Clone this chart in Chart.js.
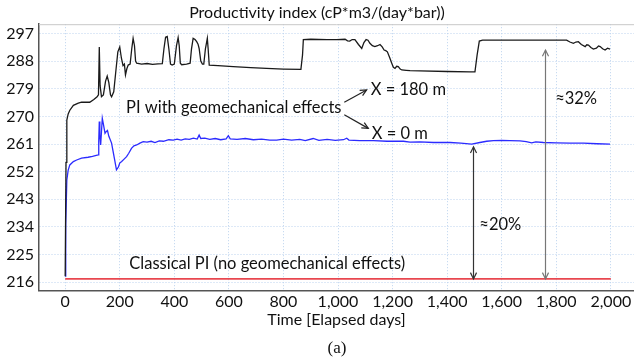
<!DOCTYPE html>
<html>
<head>
<meta charset="utf-8">
<script src="https://cdn.jsdelivr.net/npm/chart.js@4.4.0/dist/chart.umd.min.js"></script>
<style>
  html, body { margin: 0; padding: 0; background: #fff; }
</style>
</head>
<body>
<canvas id="myChart" width="634" height="363"></canvas>
<script>
// PI at X = 180 m (black)
const days180 = [0, 3, 6, 11, 17, 30, 48, 60, 90, 105, 117, 122, 125, 128, 133, 140, 148, 154, 160, 166, 170, 178, 186, 193, 200, 206, 212, 217, 221, 226, 231, 238, 244, 249, 254, 258, 262, 280, 300, 320, 340, 356, 362, 368, 374, 380, 386, 392, 400, 408, 414, 418, 422, 427, 445, 458, 463, 469, 476, 482, 487, 491, 497, 503, 508, 514, 521, 524, 528, 560, 616, 680, 738, 800, 864, 870, 873, 900, 960, 995, 1026, 1035, 1043, 1052, 1062, 1075, 1087, 1095, 1103, 1110, 1117, 1126, 1135, 1145, 1154, 1162, 1169, 1175, 1181, 1190, 1197, 1203, 1209, 1215, 1221, 1228, 1234, 1250, 1264, 1300, 1400, 1484, 1502, 1510, 1518, 1530, 1600, 1700, 1800, 1838, 1850, 1863, 1872, 1881, 1892, 1906, 1912, 1918, 1927, 1936, 1947, 1955, 1961, 1970, 1979, 1988, 1997]
const pi180 = [218, 255, 268.8, 270.8, 272, 273.6, 274.3, 274.6, 274.6, 275.5, 276.4, 277, 292.6, 280, 276.4, 277, 281.5, 283.1, 281, 277, 276.4, 278, 285, 291, 292.6, 289, 286.5, 287, 283.5, 285.5, 286.7, 287, 292, 295.4, 293, 288, 287.3, 287, 287.2, 286.9, 287.1, 287.2, 292, 295.8, 296, 292, 287, 286.7, 287, 293, 295.6, 293, 287.3, 286.8, 287, 287.3, 292, 295.4, 295, 294.3, 293.5, 292.1, 288, 287, 287, 292, 295.4, 292, 286.7, 286.5, 286.2, 285.9, 285.6, 285.4, 285.3, 290, 295, 295.1, 295, 295, 295.1, 294.6, 294.5, 295, 295, 293.4, 292.1, 294, 295, 294.8, 293.8, 293, 292.7, 293, 293.4, 292.6, 291.6, 291.4, 291, 289, 287.3, 286, 285.6, 286.3, 286.2, 285.4, 285.1, 285, 284.9, 284.8, 284.6, 284.5, 284.5, 290, 294.5, 294.8, 294.8, 294.8, 294.8, 294.8, 294.2, 293.8, 294.2, 294.3, 293.4, 292.7, 293.3, 293.2, 292.4, 291.9, 292.2, 292.9, 292.7, 292, 291.6, 292.2, 291.9]

// PI at X = 0 m (blue)
const days0 = [0, 2, 6, 11, 17, 30, 42, 60, 84, 100, 121, 123, 125, 127, 130, 133, 136, 140, 146, 150, 155, 160, 170, 180, 188, 195, 200, 207, 215, 225, 233, 243, 252, 262, 274, 286, 300, 315, 329, 345, 360, 380, 396, 410, 425, 440, 455, 470, 484, 491, 497, 512, 530, 550, 570, 590, 598, 605, 630, 660, 690, 720, 750, 775, 800, 830, 860, 880, 909, 930, 960, 990, 1020, 1032, 1040, 1080, 1130, 1180, 1240, 1264, 1300, 1350, 1411, 1450, 1490, 1520, 1545, 1570, 1600, 1630, 1667, 1690, 1710, 1725, 1753, 1800, 1850, 1900, 1950, 1997]
const pi0 = [218, 235, 249.3, 252.5, 254.2, 255.3, 255.8, 256.4, 256.7, 257, 257.5, 262, 268.3, 264, 260.7, 265, 269.4, 267.5, 264.5, 265, 265.4, 263.5, 261.3, 256.5, 252.6, 253.5, 254.8, 255.3, 256, 256.9, 258, 259.6, 260.4, 260.7, 261.3, 261.8, 261.6, 261.9, 261.5, 262, 261.9, 262.4, 262.3, 262.6, 262.3, 262.7, 262.5, 262.9, 262.6, 263.9, 262.8, 262.9, 262.5, 262.8, 262.4, 262.7, 263.7, 262.7, 262.5, 262.8, 262.4, 262.6, 262.3, 262.3, 262.6, 262.3, 262.5, 262.1, 262.8, 262.2, 262.5, 262.2, 262.4, 262.9, 262.3, 262.1, 262.1, 261.9, 261.9, 261.6, 261.7, 261.5, 261.5, 261.3, 261.0, 261.5, 261.9, 262.1, 262.2, 262.1, 262.0, 261.8, 261.4, 261.7, 261.5, 261.4, 261.3, 261.3, 261.1, 261.0]

// classical PI (red)
const daysClassical = [0, 2000]
const piClassical = [217.1, 217.1]

const xTicks = [0, 200, 400, 600, 800, 1000, 1200, 1400, 1600, 1800, 2000]
const yTicks = [216, 225, 234, 243, 252, 261, 270, 279, 288, 297]

const toPoints = (xs, ys) => xs.map((d, i) => ({ x: d, y: ys[i] }))

Chart.defaults.font.family = 'Lato'
Chart.defaults.font.size = 16
Chart.defaults.color = '#111'

// arrows + labels on the plot
const notes = {
  id: 'notes',
  afterDraw(chart) {
    const ctx = chart.ctx
    const sx = chart.scales.x, sy = chart.scales.y
    const area = chart.chartArea
    const X = v => sx.getPixelForValue(v)
    const Y = v => sy.getPixelForValue(v)

    ctx.save()
    // top frame line
    ctx.strokeStyle = '#c8c8c8'
    ctx.lineWidth = 1
    ctx.beginPath()
    ctx.moveTo(area.left, area.top + 0.5)
    ctx.lineTo(area.right, area.top + 0.5)
    ctx.stroke()

    const head = (x, y, ang) => {
      const s = 7
      ctx.beginPath()
      ctx.moveTo(x - s * Math.cos(ang - 0.45), y - s * Math.sin(ang - 0.45))
      ctx.lineTo(x, y)
      ctx.lineTo(x - s * Math.cos(ang + 0.45), y - s * Math.sin(ang + 0.45))
      ctx.stroke()
    }
    const arrow = (x1, y1, x2, y2, both, color) => {
      ctx.strokeStyle = color
      ctx.lineWidth = 1.2
      ctx.beginPath()
      ctx.moveTo(x1, y1)
      ctx.lineTo(x2, y2)
      ctx.stroke()
      const a = Math.atan2(y2 - y1, x2 - x1)
      head(x2, y2, a)
      if (both) head(x1, y1, a + Math.PI)
    }

    arrow(X(1023), Y(274.6), X(1105), Y(278.6), false, '#222')
    arrow(X(1023), Y(270.5), X(1111), Y(266.1), false, '#222')
    arrow(Math.round(X(1495)) + 0.5, Y(260.1), Math.round(X(1495)) + 0.5, Y(217.1), true, '#333')
    arrow(Math.round(X(1760)) + 0.5, Y(291.6), Math.round(X(1760)) + 0.5, Y(217.1), true, '#777')

    ctx.fillStyle = '#111'
    ctx.font = '16.5px Lato'
    ctx.textBaseline = 'middle'
    ctx.textAlign = 'left'
    ctx.fillText('PI with geomechanical effects', X(223), Y(272.7))
    ctx.fillText('X = 180 m', X(1120), Y(278.8))
    ctx.fillText('X = 0 m', X(1124), Y(264.5))
    ctx.fillText('≈32%', X(1796), Y(275.9))
    ctx.fillText('≈20%', X(1518), Y(234.7))
    ctx.fillText('Classical PI (no geomechanical effects)', X(235), Y(222.1))

    ctx.font = '17px "Liberation Serif"'
    ctx.textAlign = 'center'
    ctx.fillText('(a)', 337, 349)
    ctx.restore()
  }
}

new Chart(document.getElementById('myChart'), {
  type: 'line',
  data: {
    datasets: [{
      label: 'X = 180 m',
      data: toPoints(days180, pi180),
      borderColor: '#1a1a1a',
      borderWidth: 1.3,
      pointRadius: 0,
      tension: 0
    }, {
      label: 'X = 0 m',
      data: toPoints(days0, pi0),
      borderColor: '#2b2bff',
      borderWidth: 1.3,
      pointRadius: 0,
      tension: 0
    }, {
      label: 'Classical PI',
      data: toPoints(daysClassical, piClassical),
      borderColor: '#e8474f',
      borderWidth: 1.6,
      pointRadius: 0,
      tension: 0
    }]
  },
  options: {
    responsive: false,
    animation: false,
    layout: { padding: { left: 0, right: 0, top: 0, bottom: 34 } },
    plugins: {
      legend: { display: false },
      tooltip: { enabled: false },
      title: {
        display: true,
        text: 'Productivity index (cP*m3/(day*bar))',
        font: { size: 16, weight: 'normal' },
        color: '#111',
        padding: { top: 3, bottom: 2 }
      }
    },
    scales: {
      x: {
        type: 'linear',
        min: -96,
        max: 2085,
        afterBuildTicks: axis => { axis.ticks = xTicks.map(v => ({ value: v })) },
        ticks: {
          padding: 2,
          maxRotation: 0,
          callback: v => v.toLocaleString('en-US')
        },
        grid: { color: '#bcd3ee', drawTicks: false },
        border: { color: '#555', width: 1.5, dash: [1, 2] },
        title: {
          display: true,
          text: 'Time [Elapsed days]',
          font: { size: 16 },
          color: '#111',
          padding: { top: -4, bottom: 0 }
        }
      },
      y: {
        type: 'linear',
        min: 213.3,
        max: 300,
        afterBuildTicks: axis => { axis.ticks = yTicks.map(v => ({ value: v })) },
        afterFit: axis => { axis.width = 39 },
        ticks: { padding: 5 },
        grid: { color: '#bcd3ee', drawTicks: false },
        border: { color: '#555', width: 1.5, dash: [1, 2] }
      }
    }
  },
  plugins: [notes]
})
</script>
</body>
</html>
